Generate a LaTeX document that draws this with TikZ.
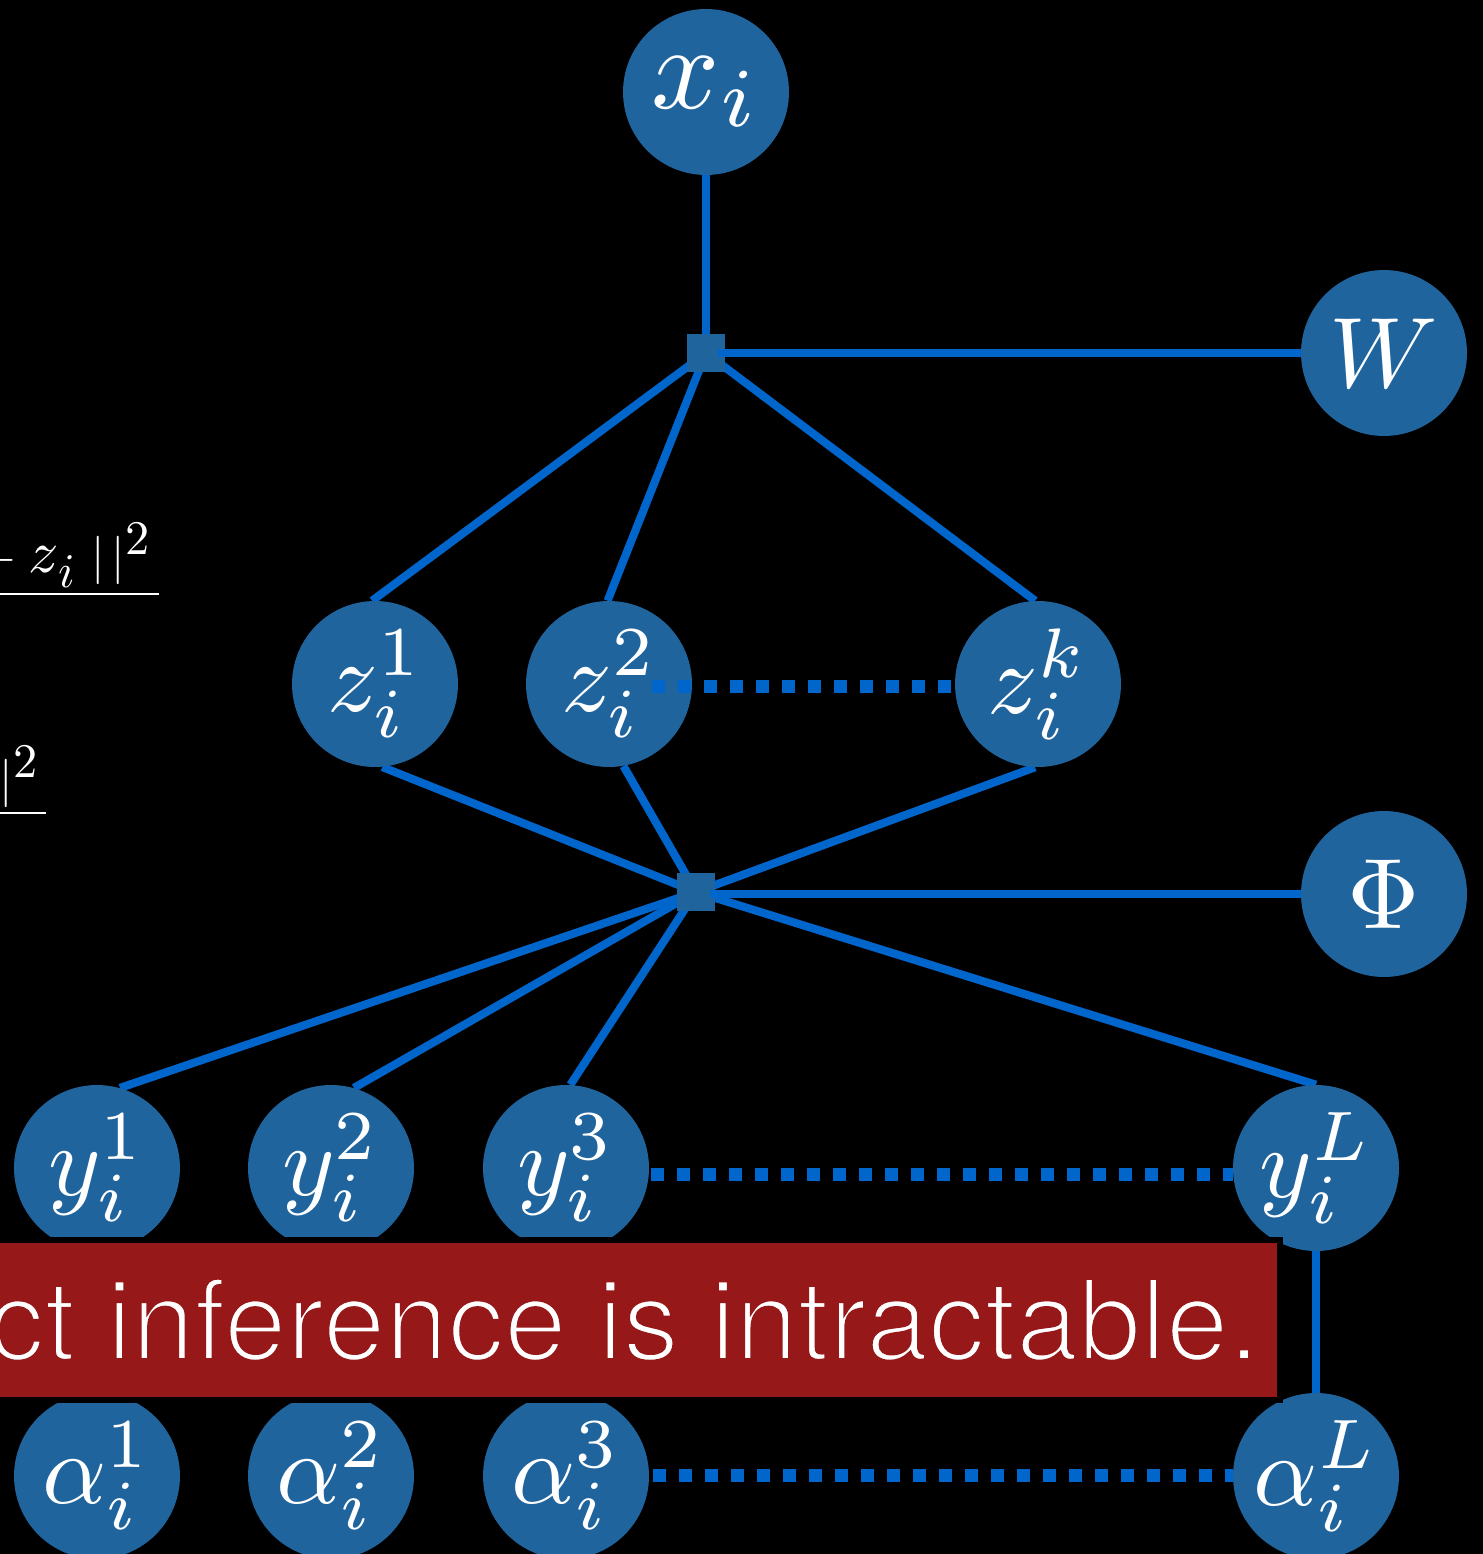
\documentclass[tikz,border=0pt]{standalone}
\usepackage{graphicx}
\usepackage{fontspec}
\newfontfamily\bannerfont{TeX Gyre Heros}
\usetikzlibrary{calc}
\pgfdeclarelayer{back}
\pgfsetlayers{back,main}
\definecolor{nodeblue}{RGB}{32,100,158}
\definecolor{edgeblue}{RGB}{0,102,204}
\definecolor{bannerred}{RGB}{150,24,24}

% math set at 10pt and enlarged
\newcommand{\mathat}[2]{\scalebox{#1}{\fontsize{10}{12}\selectfont$#2$}}
% thinner strokes: outline the glyphs in the banner colour
\newcommand{\thinon}{\special{pdf:literal 2 Tr 0.588 0.094 0.094 RG 2.2 w}}
\newcommand{\thinoff}{\special{pdf:literal 0 Tr 1 w}}

\tikzset{
  var/.style={circle, fill=nodeblue, text=white, minimum size=3.32cm,
    inner sep=0pt},
  factor/.style={rectangle, fill=nodeblue, minimum size=0.76cm, inner sep=0pt},
  link/.style={draw=edgeblue, line width=4.6pt},
  chain/.style={draw=edgeblue, line width=7.4pt, dash pattern=on 7.4pt off 7.4pt},
  fragment/.style={text=white, inner sep=0pt},
  fracbar/.style={draw=white, line width=1.5pt},
}

\begin{document}
\begin{tikzpicture}[x=0.02cm, y=-0.02cm]
\useasboundingbox (0,0) rectangle (1482,1554);
\begin{pgfonlayer}{back}
  \fill[black] (-10,-10) rectangle (1492,1564);
\end{pgfonlayer}
\clip (0,0) rectangle (1482,1554);

% variables
\node[var] (x) at (706,92) {\mathat{6.8}{x_i}};
\node[var] (W) at (1384,353) {\mathat{5.7}{W}};
\node[var] (Phi) at (1384,894) {\mathat{5.7}{\Phi}};
\node[var] (z1) at (375,684) {\mathat{5.7}{z_i^1}};
\node[var] (z2) at (609,684) {\mathat{5.7}{z_i^2}};
\node[var] (zk) at (1038,684) {\mathat{5.7}{z_i^k}};
\node[var] (y1) at (97,1168) {\mathat{5.7}{y_i^1}};
\node[var] (y2) at (331,1168) {\mathat{5.7}{y_i^2}};
\node[var] (y3) at (566,1168) {\mathat{5.7}{y_i^3}};
\node[var] (yL) at (1316,1168) {\mathat{5.7}{y_i^L}};
\node[var] (a1) at (97,1476) {\mathat{5.7}{\alpha_i^1}};
\node[var] (a2) at (331,1476) {\mathat{5.7}{\alpha_i^2}};
\node[var] (a3) at (566,1476) {\mathat{5.7}{\alpha_i^3}};
\node[var] (aL) at (1316,1476) {\mathat{5.7}{\alpha_i^L}};

% factors
\node[factor] (f1) at (706,353) {};
\node[factor] (f2) at (696,892) {};

% connections under the nodes
\begin{pgfonlayer}{back}
  \draw[link] (x.south) -- (f1.center);
  \draw[link] (f1.center) -- (z1.92);
  \draw[link] (f1.center) -- (z2.91);
  \draw[link] (f1.center) -- (zk.92);
  \draw[link] (z1.-85) -- (f2.center);
  \draw[link] (z2.-80) -- (f2.center);
  \draw[link] (zk.-92) -- (f2.center);
  \draw[link] (f2.center) -- (y1.74);
  \draw[link] (f2.center) -- (y2.74);
  \draw[link] (f2.center) -- (y3.87);
  \draw[link] (f2.center) -- (yL.north);
  \draw[link] (yL) -- (aL);
\end{pgfonlayer}

% parameter links over the factor squares
\draw[link] ($(f1.center)+(12,0)$) -- (W);
\draw[link] ($(f2.center)+(14,2)$) -- (Phi);

% chains of repeated variables
\draw[chain] ($(z2.center)+(43,2)$) -- ($(zk.west)+(0,2)$);
\draw[chain] ($(y3.east)+(2,6)$) -- ($(yL.west)+(0,6)$);
\draw[chain] ($(a3.east)+(4,-1)$) -- ($(aL.west)+(0,-1)$);

% equation fragments on the left
\node[fragment, anchor=base east] (eqa) at (152,572)
  {\mathat{2.75}{\mathord{}-\scalebox{1.24}{$z$}_{\textstyle i}\mkern5mu|\mkern2.6mu|^{\textstyle 2}}};
\coordinate (eqaL) at (-5,594);
\coordinate (eqaR) at (159,594);
\draw[fracbar] (eqaL) -- (eqaR);
\node[fragment, anchor=base east] (eqb) at (40,795)
  {\mathat{2.75}{|\mkern2.6mu|^{\textstyle 2}}};
\coordinate (eqbL) at (-5,813);
\coordinate (eqbR) at (46,813);
\draw[fracbar] (eqbL) -- (eqbR);

% banner
\fill[black] (-10,1237) rectangle (1283,1403);
\fill[bannerred] (-10,1243) rectangle (1277,1397);
\node[anchor=base east, inner sep=0pt, text=white,
  font=\bannerfont\fontsize{64}{70}\selectfont] (banner) at (1260,1360)
  {\thinon ct inference is intractable.\thinoff};
\end{tikzpicture}
\end{document}
